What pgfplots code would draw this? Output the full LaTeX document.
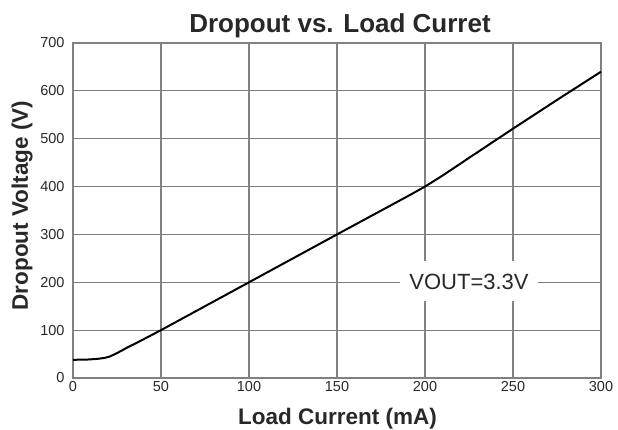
\documentclass[border=0pt]{standalone}
\usepackage{fontspec}
\setmainfont{Liberation Sans}
\usepackage{pgfplots}
\pgfplotsset{compat=1.18}
\definecolor{gridc}{RGB}{128,128,128}
\definecolor{txt}{RGB}{40,40,40}
\begin{document}
\begin{tikzpicture}
\useasboundingbox (-73pt,-52pt) rectangle (545pt,378pt);
\begin{axis}[
  at={(0pt,0pt)}, anchor=south west,
  scale only axis, width=528pt, height=335pt,
  xmin=0, xmax=300, ymin=0, ymax=700,
  xtick={0,50,...,300}, ytick={0,100,...,700},
  grid=major,
  major grid style={gridc, line width=1.2pt},
  axis line style={gridc, line width=1.3pt},
  major tick length=0pt,
  /pgf/number format/assume math mode=true,
  ticklabel style={font=\fontsize{14.5}{16}\selectfont, text=txt},
  yticklabel style={xshift=-5pt},
  xticklabel style={yshift=0pt},
  clip=false,
]
\addplot[black, line width=2pt] coordinates {
  (0,38) (8,38.5) (14,40) (18,42) (21,45) (25,52) (30,62) (37,75)
  (50,100) (100,200) (150,300) (190,379.5) (200,400) (210,423) (225,460) (250,521) (275,581) (300,640)
};
\node[fill=white, inner xsep=9pt, inner ysep=12pt, text height=15.75pt, text depth=0pt,
      font=\fontsize{22}{26}\selectfont, text=txt] at (axis cs:225,202) {VOUT=3.3V};
\end{axis}
\node[anchor=base, font=\fontsize{26}{30}\selectfont\bfseries, text=txt] at (267pt,345pt) {Dropout vs. Load Curret};
\node[anchor=base, font=\fontsize{22.5}{26}\selectfont\bfseries, text=txt] at (264.5pt,-47pt) {Load Current (mA)};
\node[anchor=base, rotate=90, font=\fontsize{22.5}{26}\selectfont\bfseries, text=txt] at (-45pt,172.5pt) {Dropout Voltage (V)};
\end{tikzpicture}
\end{document}
